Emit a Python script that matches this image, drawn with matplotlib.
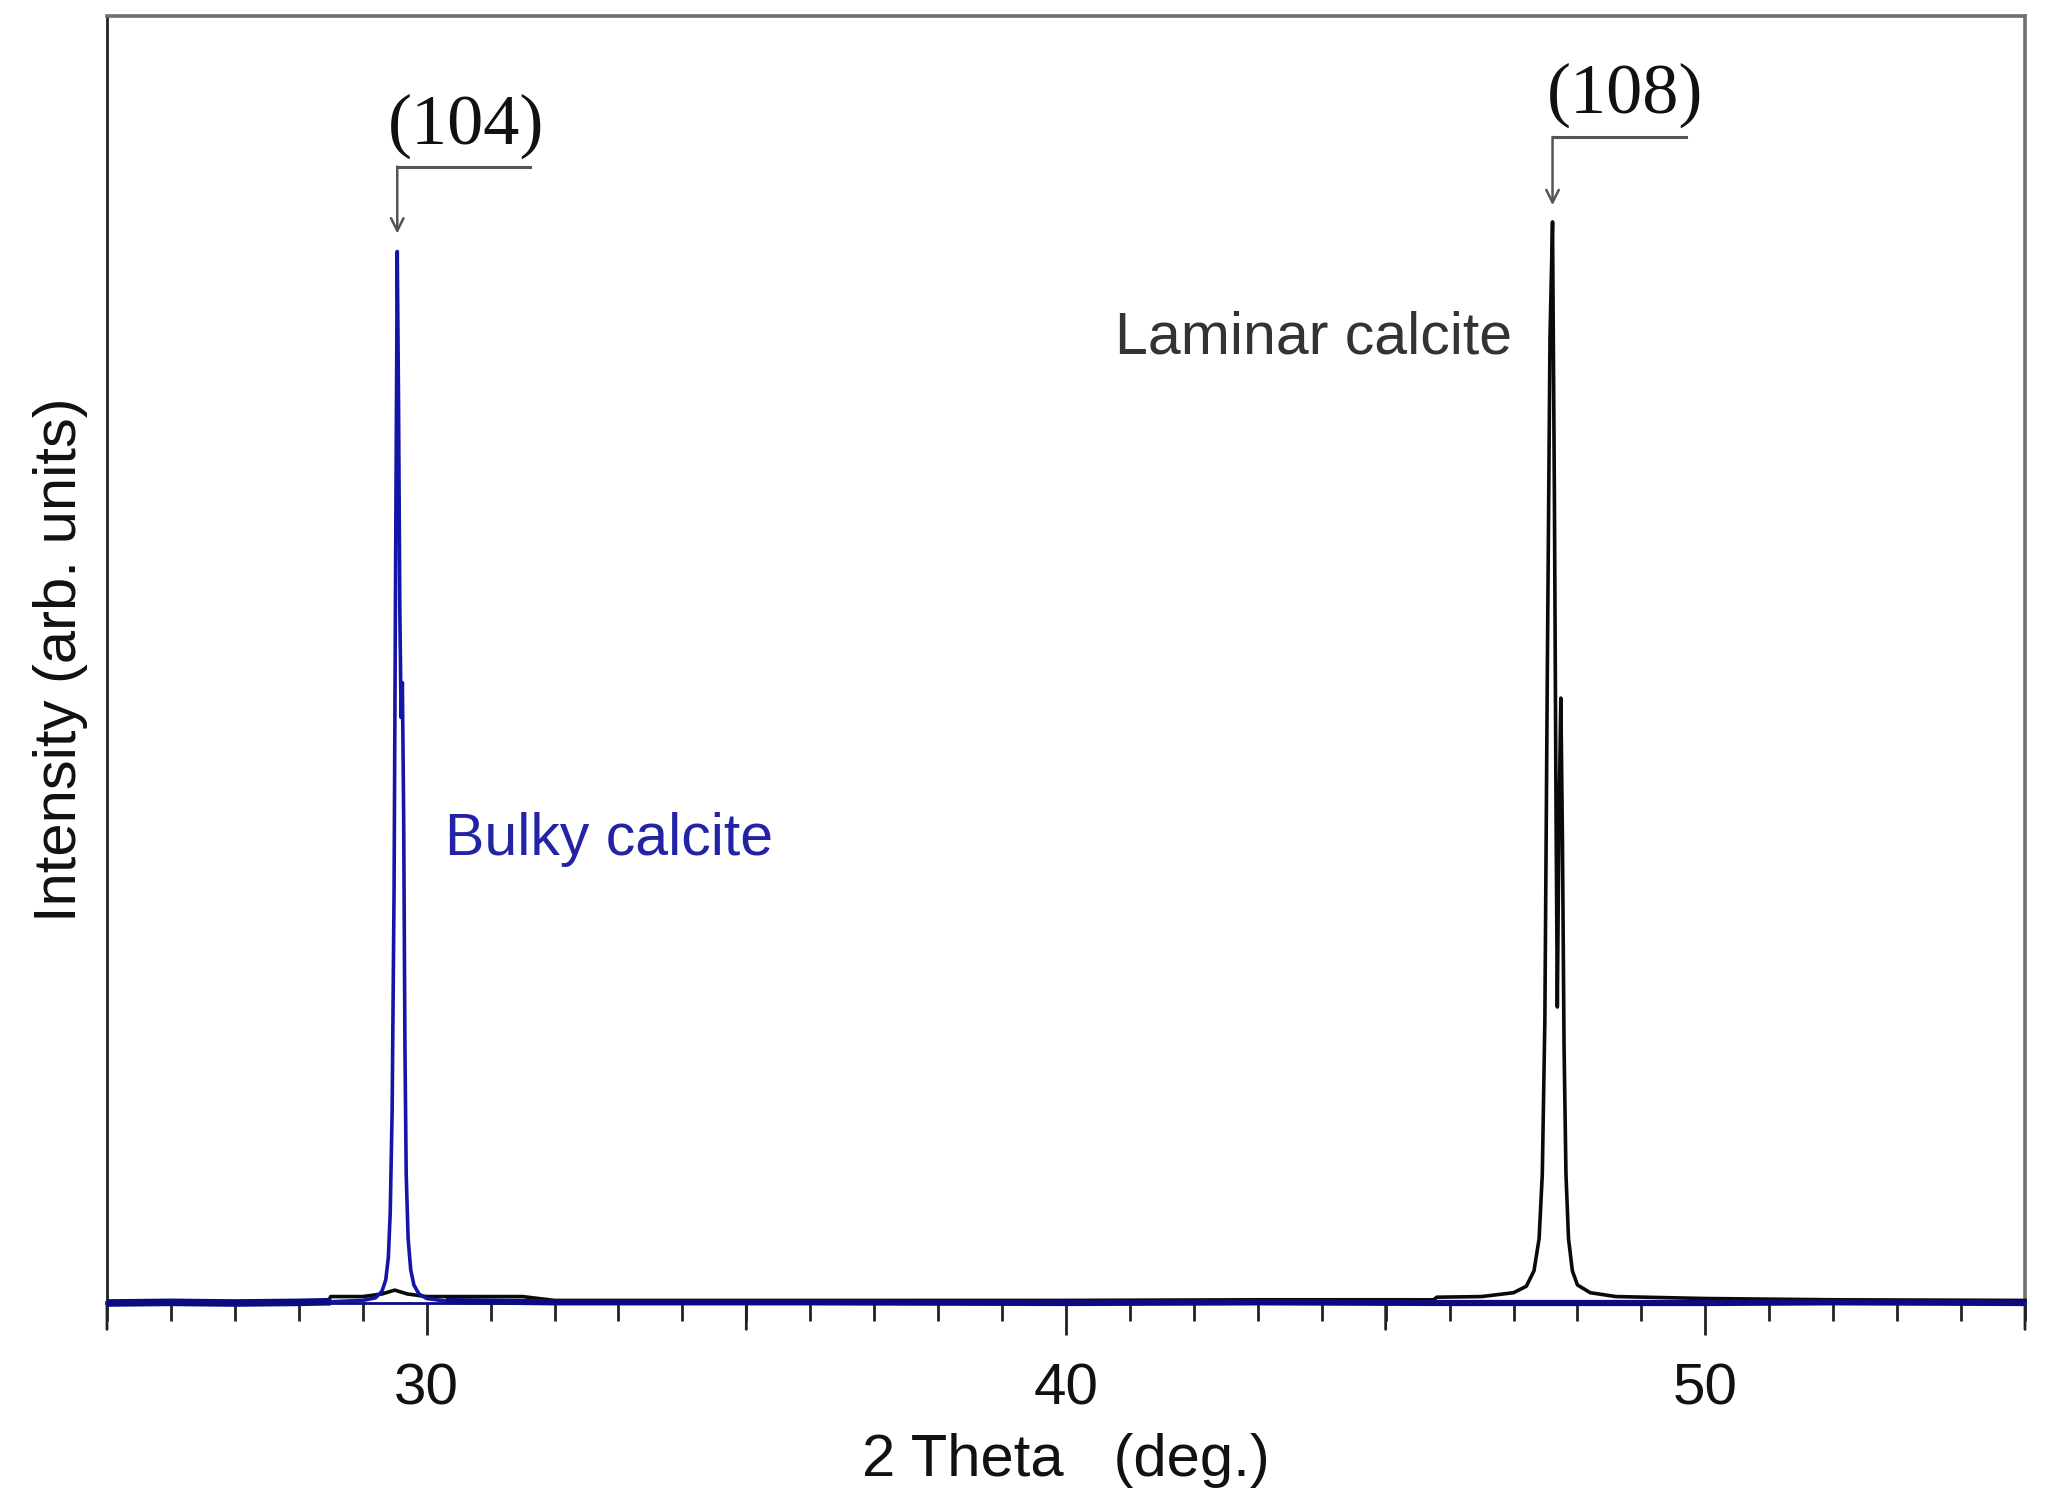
import matplotlib
matplotlib.use("Agg")
import matplotlib.pyplot as plt
from matplotlib.ticker import MultipleLocator
import numpy as np

# ---- data ----
bulky_2theta = [25.0, 26.0, 27.0, 28.0, 28.5, 29.0, 29.2, 29.3, 29.36, 29.40, 29.43,
                29.46, 29.49, 29.515, 29.54, 29.56, 29.58, 29.60, 29.62, 29.64,
                29.66, 29.68, 29.71, 29.75, 29.80, 29.88, 30.0, 30.3, 32.0, 36.0,
                40.0, 43.0, 46.0, 48.0, 50.0, 52.0, 55.0]
bulky_int = [0.0, 0.05, 0.0, 0.05, 0.1, 0.2, 0.4, 0.9, 1.8, 3.5, 7.0,
             15.0, 32.0, 58.0, 81.7, 70.0, 54.0, 45.5, 48.2, 38.0,
             20.0, 10.0, 5.0, 2.6, 1.4, 0.7, 0.35, 0.15, 0.05, 0.05,
             0.0, 0.05, 0.0, 0.0, 0.0, 0.05, 0.0]

laminar_2theta = [28.45, 28.5, 29.0, 29.3, 29.5, 29.7, 30.0, 31.5, 32.0, 36.0, 40.0,
                  43.0, 45.75, 45.8, 46.5, 47.0, 47.2, 47.32, 47.40, 47.45, 47.49,
                  47.53, 47.57, 47.61, 47.64, 47.665, 47.685, 47.71, 47.74, 47.765,
                  47.79, 47.82, 47.86, 47.92, 48.0, 48.2, 48.6, 50.0, 52.0, 55.0]
laminar_int = [0.0, 0.5, 0.5, 0.7, 1.0, 0.7, 0.5, 0.5, 0.2, 0.2, 0.2,
               0.25, 0.25, 0.45, 0.5, 0.8, 1.3, 2.5, 5.0, 10.0, 22.0,
               50.0, 75.0, 84.0, 62.0, 38.0, 23.0, 37.0, 47.0, 36.0,
               20.0, 10.0, 5.0, 2.5, 1.4, 0.8, 0.5, 0.35, 0.25, 0.2]

xlim = (25, 55)
ylim = (0, 100)
major_ticks = [30, 40, 50]
medium_ticks = [25, 35, 45, 55]
labels = {"laminar": "Laminar calcite", "bulky": "Bulky calcite"}
peak_labels = ["(104)", "(108)"]

# ---- figure ----
W, H = 2052, 1506
fig = plt.figure(figsize=(W / 100, H / 100), dpi=100)
ax = fig.add_axes([107 / W, 1 - 1303 / H, (2025 - 107) / W, (1303 - 16) / H])

sans = ["Liberation Sans", "DejaVu Sans"]
serif = ["Liberation Serif", "DejaVu Serif"]

blue = "#1414a8"
black = "#0a0a0a"

ax.plot(laminar_2theta, laminar_int, color=black, lw=2.6, clip_on=False, zorder=3)
bx = np.array(bulky_2theta)
bi = np.array(bulky_int)
ax.plot(bx, bi, color=blue, lw=2.6, clip_on=False, zorder=4)
# thicker, noisy-looking baseline band of the bulky scan
mask_l = bx <= 28.5
mask_r = bx >= 30.3
ax.plot(bx[mask_l], bi[mask_l], color="#0c0c80", lw=5.5, clip_on=False, zorder=4,
        solid_capstyle="butt")
ax.plot(bx[mask_r], bi[mask_r], color="#0c0c80", lw=4.5, clip_on=False, zorder=4,
        solid_capstyle="butt")

ax.set_xlim(*xlim)
ax.set_ylim(*ylim)

# spines
for s in ["top", "right"]:
    ax.spines[s].set_color("#707070")
    ax.spines[s].set_linewidth(2.6)
ax.spines["left"].set_color("#222222")
ax.spines["left"].set_linewidth(2.0)
ax.spines["bottom"].set_color("#0c0c80")
ax.spines["bottom"].set_linewidth(2.0)

ax.set_yticks([])
ax.set_xticks(major_ticks)
ax.xaxis.set_minor_locator(MultipleLocator(1))
ax.tick_params(axis="x", which="major", direction="out", length=23, width=2.0,
               color="#222222", labelsize=42, pad=20)
ax.tick_params(axis="x", which="minor", direction="out", length=13, width=2.0,
               color="#222222")
for lab in ax.get_xticklabels():
    lab.set_family(sans)
    lab.set_color("#111111")

# medium ticks at the 5s
tr = ax.get_xaxis_transform()
for xv in medium_ticks:
    ax.annotate("", xy=(xv, 0), xycoords=tr, xytext=(0, -19), textcoords="offset points",
                arrowprops=dict(arrowstyle="-", lw=2.0, color="#222222",
                                shrinkA=0, shrinkB=0), annotation_clip=False)

ax.set_xlabel("2 Theta   (deg.)", fontsize=43, family=sans, color="#111111", labelpad=12)
ax.set_ylabel("Intensity (arb. units)", fontsize=43, family=sans, color="#111111",
              labelpad=14)

# series labels
ax.text(40.77, 73.8, labels["laminar"], fontsize=42.5, family=sans, color="#333333",
        ha="left", va="baseline")
ax.text(30.29, 34.8, labels["bulky"], fontsize=42.5, family=sans, color="#2323a6",
        ha="left", va="baseline")

# peak index brackets with arrows
bpk = int(np.argmax(bi))
lpk = int(np.argmax(laminar_int))
brackets = [
    (bulky_2theta[bpk], 83.1, 88.3, 31.62, 30.62, 90.1, peak_labels[0]),
    (laminar_2theta[lpk], 85.3, 90.6, 49.69, 48.74, 92.5, peak_labels[1]),
]
for px, tip, top, xr, tx, ty, txt in brackets:
    ax.annotate("", xy=(px, tip), xytext=(px, top),
                arrowprops=dict(arrowstyle="->,head_length=0.9,head_width=0.45",
                                lw=1.8, color="#555555", shrinkA=0, shrinkB=0),
                annotation_clip=False)
    ax.plot([px, xr], [top, top], color="#555555", lw=2.2, clip_on=False)
    ax.text(tx, ty, txt, fontsize=52, family=serif, color="#111111",
            ha="center", va="baseline")

fig.savefig("out.png", dpi=100)
